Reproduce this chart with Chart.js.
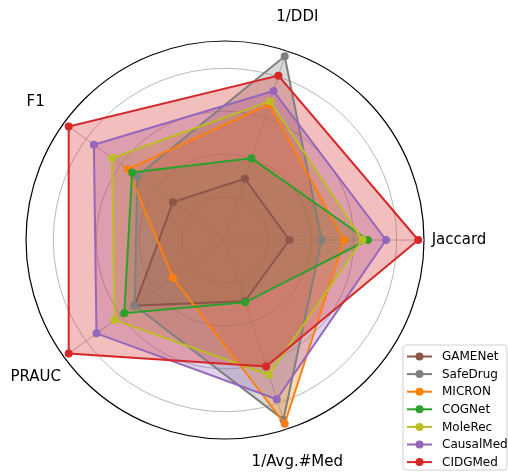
<!DOCTYPE html>
<html><head><meta charset="utf-8">
<script src="https://cdn.jsdelivr.net/npm/chart.js@4.4.0/dist/chart.umd.min.js"></script>
<style>html,body{margin:0;padding:0;background:#fff;}canvas{display:block;}</style>
</head><body>
<canvas id="c" width="508" height="472"></canvas>
<script>
// Axis order (clockwise from the right): Jaccard, 1/Avg.#Med, PRAUC, F1, 1/DDI
const axisLabels = ['Jaccard', '1/Avg.#Med', 'PRAUC', 'F1', '1/DDI'];
const seriesNames = ['GAMENet', 'SafeDrug', 'MICRON', 'COGNet', 'MoleRec', 'CausalMed', 'CIDGMed'];
const GAMENet   = [0.30, 0.30, 0.52, 0.30, 0.30];
const SafeDrug  = [0.45, 0.88, 0.52, 0.505, 0.90];
const MICRON    = [0.555, 0.90, 0.30, 0.56, 0.665];
const COGNet    = [0.665, 0.305, 0.58, 0.535, 0.40];
const MoleRec   = [0.64, 0.66, 0.635, 0.65, 0.68];
const CausalMed = [0.75, 0.78, 0.74, 0.755, 0.73];
const CIDGMed   = [0.90, 0.62, 0.90, 0.90, 0.805];
const gridTicks = [0, 0.2, 0.4, 0.6, 0.8, 0.927];
const seriesColors = ['#8c564b', '#7f7f7f', '#ff7f0e', '#2ca02c', '#bcbd22', '#9467bd', '#d62728'];

const seriesValues = [GAMENet, SafeDrug, MICRON, COGNet, MoleRec, CausalMed, CIDGMed];
const FONT = 'DejaVu Sans';
function rgba(hex, a) {
  const n = parseInt(hex.slice(1), 16);
  return `rgba(${(n >> 16) & 255},${(n >> 8) & 255},${n & 255},${a})`;
}

const datasets = seriesNames.map((name, i) => ({
  label: name,
  data: seriesValues[i],
  borderColor: seriesColors[i],
  backgroundColor: rgba(seriesColors[i], 0.3),
  pointBackgroundColor: seriesColors[i],
  pointBorderColor: seriesColors[i],
  pointRadius: 4,
  pointBorderWidth: 0,
  borderWidth: 2,
  fill: true,
  order: seriesNames.length - i
}));

const axisLabelPlugin = {
  id: 'axisLabels',
  afterDraw(chart) {
    const r = chart.scales.r;
    const ctx = chart.ctx;
    ctx.save();
    ctx.font = `15px "${FONT}"`;
    ctx.fillStyle = '#000';
    ctx.textAlign = 'center';
    ctx.textBaseline = 'middle';
    axisLabels.forEach((lab, i) => {
      const p = r.getPointPosition(i, r.drawingArea + 35);
      ctx.fillText(lab, p.x, p.y);
    });
    ctx.restore();
  }
};

const legendPlugin = {
  id: 'mplLegend',
  afterDraw(chart) {
    const ctx = chart.ctx;
    ctx.save();
    const x0 = 403, y0 = 345, w = 104, h = 125, rad = 3;
    ctx.beginPath();
    ctx.moveTo(x0 + rad, y0);
    ctx.lineTo(x0 + w - rad, y0);
    ctx.arcTo(x0 + w, y0, x0 + w, y0 + rad, rad);
    ctx.lineTo(x0 + w, y0 + h - rad);
    ctx.arcTo(x0 + w, y0 + h, x0 + w - rad, y0 + h, rad);
    ctx.lineTo(x0 + rad, y0 + h);
    ctx.arcTo(x0, y0 + h, x0, y0 + h - rad, rad);
    ctx.lineTo(x0, y0 + rad);
    ctx.arcTo(x0, y0, x0 + rad, y0, rad);
    ctx.closePath();
    ctx.fillStyle = 'rgba(255,255,255,0.8)';
    ctx.fill();
    ctx.strokeStyle = '#d0d0d0';
    ctx.lineWidth = 1;
    ctx.stroke();
    ctx.font = `12px "${FONT}"`;
    ctx.textBaseline = 'middle';
    ctx.textAlign = 'left';
    chart.data.datasets.forEach((ds, i) => {
      const y = 356.5 + i * 17.6;
      ctx.strokeStyle = ds.borderColor;
      ctx.lineWidth = 2;
      ctx.beginPath();
      ctx.moveTo(407, y);
      ctx.lineTo(432, y);
      ctx.stroke();
      ctx.fillStyle = ds.borderColor;
      ctx.beginPath();
      ctx.arc(419.5, y, 4, 0, Math.PI * 2);
      ctx.fill();
      ctx.fillStyle = '#000';
      ctx.fillText(ds.label, 442, y + 0.5);
    });
    ctx.restore();
  }
};

new Chart(document.getElementById('c'), {
  type: 'radar',
  data: { labels: axisLabels, datasets },
  options: {
    responsive: false,
    animation: false,
    layout: { padding: { left: 26, top: 41, right: 84, bottom: 33 } },
    elements: { line: { tension: 0 } },
    plugins: {
      legend: { display: false },
      tooltip: { enabled: false },
      filler: { drawTime: 'beforeDatasetsDraw' }
    },
    scales: {
      r: {
        min: 0,
        max: gridTicks[gridTicks.length - 1],
        startAngle: 90,
        afterBuildTicks: (s) => { s.ticks = gridTicks.map(v => ({ value: v })); },
        ticks: { display: false },
        pointLabels: { display: false },
        grid: {
          circular: true,
          color: (c) => (c.tick && c.tick.value > 0.9) ? '#000000' : '#b8b8b8',
          lineWidth: (c) => (c.tick && c.tick.value > 0.9) ? 1.2 : 1
        },
        angleLines: { color: '#b8b8b8', lineWidth: 1 }
      }
    }
  },
  plugins: [axisLabelPlugin, legendPlugin]
});
</script>
</body></html>
